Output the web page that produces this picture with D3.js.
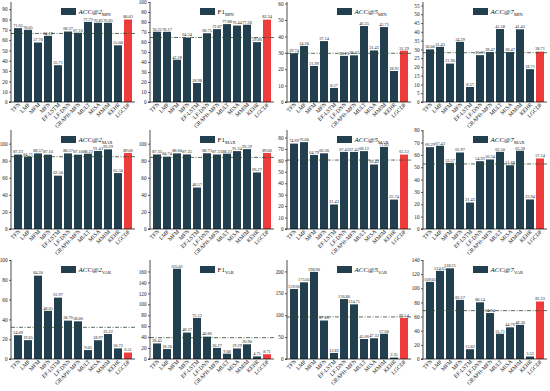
<!DOCTYPE html>
<html><head><meta charset="utf-8">
<script src="https://cdn.jsdelivr.net/npm/d3@7"></script>
<style>body{margin:0;background:#fff}svg{display:block}</style>
</head><body>
<svg id="c" width="550" height="391"></svg>
<script>
const categories = ["TFN","LMF","MFM","MFN","EF-LSTM","LF-DNN","GRAPH-MFN","MULT","MISA","MMIM","KEHR","LGCDF"];
const metrics = ["ACC@2","F1","ACC@5","ACC@7"];
const groups = ["MIN","MAX","VAR"];

const acc2Min = [71.65,70.05,57.70,64.19,35.71,68.37,67.16,77.72,76.85,76.85,55.00,80.03];
const f1Min   = [70.25,70.17,42.28,64.34,18.98,68.75,72.87,77.88,76.44,77.28,59.86,82.34];
const acc5Min = [29.74,34.20,21.99,37.14,8.57,28.13,28.47,46.35,31.43,45.71,18.91,31.29];
const acc7Min = [30.00,31.43,21.90,34.29,8.57,26.71,28.47,41.58,28.47,41.43,18.71,28.71];

const acc2Max = [87.23,84.71,88.57,87.10,62.50,88.57,87.10,88.22,91.43,93.29,65.50,89.06];
const f1Max   = [87.32,84.74,88.60,87.35,48.57,88.73,87.33,88.22,91.24,93.59,66.27,89.06];
const acc5Max = [74.69,76.00,64.79,66.20,21.43,67.43,67.43,68.12,56.42,71.85,25.74,65.12];
const acc7Max = [66.29,67.43,53.57,61.97,21.43,54.93,56.34,62.50,51.68,63.38,23.94,57.14];

const acc2Var = [24.09,19.05,84.20,48.65,61.97,38.76,38.06,9.03,18.97,25.22,10.72,6.51];
const f1Var   = [28.45,18.20,165.01,48.37,75.12,40.86,20.27,9.68,19.29,26.90,4.75,8.71];
const acc5Var = [159.66,175.05,198.90,87.86,13.82,136.80,124.71,45.66,47.32,57.60,3.35,93.54];
const acc7Var = [109.05,124.65,128.21,83.57,13.82,80.14,64.94,35.71,44.76,48.30,3.53,81.33];

const refLines = [66.5,64.5,29.7,28.1, 84.7,83.9,60.3,52.7, 32,39,96,68.4];
const yMaxes   = [97,100,61,57, 116,116,86.6,80.2, 100,181,226,140];
const yTickMax = [90,100,60,55, 100,100,80,80, 100,160,200,140];
const yTickStep= [10,10,10,5, 20,20,10,10, 20,20,50,20];

const series = [acc2Min,f1Min,acc5Min,acc7Min, acc2Max,f1Max,acc5Max,acc7Max, acc2Var,f1Var,acc5Var,acc7Var];

const colAxisX = [11,150,287,423];
const rowZeroY = [102,229,359];
const rowTopY = [2,130,260];
const barColor = "#213f4e", hiColor = "#ee3b3b", refColor = "#2f4a2f";
const font = "Liberation Serif, Times New Roman, serif";

const svg = d3.select("#c");

series.forEach((vals, i) => {
  const r = Math.floor(i/4), c = i % 4;
  const ax = colAxisX[c], zy = rowZeroY[r], ty = rowTopY[r];
  const g = svg.append("g");
  const x = d3.scaleBand().domain(categories).range([ax+2, ax+122]).paddingInner(0.2).paddingOuter(0.1);
  const y = d3.scaleLinear().domain([0, yMaxes[i]]).range([zy, ty]);
  const ticks = d3.range(0, yTickMax[i] + 1e-6, yTickStep[i]);

  // bars
  g.selectAll("rect.bar").data(vals).join("rect")
    .attr("x", (d,k) => x(categories[k]))
    .attr("y", d => y(d))
    .attr("width", x.bandwidth())
    .attr("height", d => zy - y(d))
    .attr("fill", (d,k) => k === categories.length-1 ? hiColor : barColor);

  // value labels
  g.selectAll("text.val").data(vals).join("text")
    .attr("x", (d,k) => x(categories[k]) + x.bandwidth()/2)
    .attr("y", d => y(d) - 1.2)
    .attr("text-anchor","middle")
    .attr("font-family", font).attr("font-size", 4.3).attr("fill","#222")
    .text(d => d.toFixed(2));

  // reference line
  g.append("line")
    .attr("x1", ax).attr("x2", ax+124)
    .attr("y1", y(refLines[i])).attr("y2", y(refLines[i]))
    .attr("stroke", refColor).attr("stroke-width", 0.8)
    .attr("stroke-dasharray", "4,1.5,1,1.5");

  // y axis
  const yAxis = d3.axisLeft(y).tickValues(ticks).tickSize(2).tickPadding(1.5).tickFormat(d3.format("d"));
  const ya = g.append("g").attr("transform", `translate(${ax},0)`).call(yAxis);
  ya.select(".domain").attr("d", `M-2,${zy}H0V${ty}`).attr("stroke","#000").attr("stroke-width",0.7);
  ya.selectAll(".tick line").attr("stroke-width",0.6);
  ya.selectAll("text").attr("font-family", font).attr("font-size", 5.2).attr("fill","#111");

  // x axis
  const xAxis = d3.axisBottom(x).tickSize(0).tickPadding(3);
  const xa = g.append("g").attr("transform", `translate(0,${zy})`).call(xAxis);
  xa.select(".domain").attr("d", `M${ax},0H${ax+124}`).attr("stroke","#000").attr("stroke-width",0.7);
  xa.selectAll("text")
    .attr("font-family", font).attr("font-size", 5.6).attr("fill","#111")
    .attr("text-anchor","end")
    .attr("dy", null).attr("y", 0)
    .attr("transform", function(){ return "translate(2.5,3) rotate(-45)"; });

  // legend
  const lx = ax + 50, ly = ty + 6;
  g.append("rect").attr("x", lx).attr("y", ly).attr("width", 15).attr("height", 7).attr("fill", barColor);
  const t = g.append("text").attr("x", lx + 17.5).attr("y", ly + 6)
    .attr("font-family", font).attr("font-size", 7).attr("fill","#111");
  t.append("tspan").attr("font-style", metrics[c].startsWith("ACC") ? "italic" : "normal").text(metrics[c]);
  t.append("tspan").attr("font-size", 4.5).attr("dy", 1.5).text(groups[r]);
});
</script>
</body></html>
